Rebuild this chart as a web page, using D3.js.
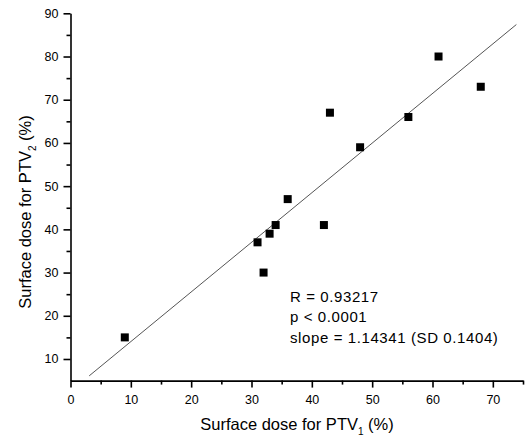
<!DOCTYPE html>
<html lang="en">
<meta charset="utf-8">

<!-- Load d3.js -->
<script src="https://d3js.org/d3.v7.min.js"></script>

<style>
  body { margin: 0; background: #fff; }
  text { font-family: "Liberation Sans", Arial, Helvetica, sans-serif; fill: #000; }
</style>

<!-- Create a div where the graph will take place -->
<div id="my_dataviz"></div>

<script>

    // data
    var doseX = [9, 31, 32, 33, 34, 36, 42, 43, 48, 56, 61, 68];
    var doseY = [15, 37, 30, 39, 41, 47, 41, 67, 59, 66, 80, 73];

    // end points of the fitted line
    var fitX = [3.1, 73.9];
    var fitY = [6.1, 87.4];

    var xTicks = [0, 10, 20, 30, 40, 50, 60, 70];
    var xMinor = [5, 15, 25, 35, 45, 55, 65, 75];
    var yTicks = [10, 20, 30, 40, 50, 60, 70, 80, 90];
    var yMinor = [15, 25, 35, 45, 55, 65, 75, 85];

    var statLines = ["R = 0.93217", "p < 0.0001", "slope = 1.14341 (SD 0.1404)"];

    // set the dimensions and margins of the graph
    var margin = {top: 13.3, right: 4, bottom: 58.4, left: 70.5},
      width = 527 - margin.left - margin.right,
      height = 439 - margin.top - margin.bottom;

    var svg = d3.select("#my_dataviz")
    .append("svg")
      .attr("width", 527)
      .attr("height", 439)
    .append("g")
      .attr("transform", "translate(" + margin.left + "," + margin.top + ")");

    var x = d3.scaleLinear().domain([0, 75]).range([0, width]);
    var y = d3.scaleLinear().domain([5, 90]).range([height, 0]);

    // minor ticks first
    svg.append("g")
      .attr("transform", "translate(0," + height + ")")
      .call(d3.axisBottom(x).tickValues(xMinor).tickSize(4).tickFormat(""))
      .call(function(g) { g.select(".domain").remove(); });
    svg.append("g")
      .call(d3.axisLeft(y).tickValues(yMinor).tickSize(4).tickFormat(""))
      .call(function(g) { g.select(".domain").remove(); });

    // X axis
    svg.append("g")
      .attr("class", "xaxis")
      .attr("transform", "translate(0," + height + ")")
      .call(d3.axisBottom(x).tickValues(xTicks).tickSize(7).tickSizeOuter(0).tickPadding(7.5));

    // Y axis
    svg.append("g")
      .attr("class", "yaxis")
      .call(d3.axisLeft(y).tickValues(yTicks).tickSize(7).tickSizeOuter(0).tickPadding(5));

    svg.selectAll(".tick line, .domain")
      .attr("stroke", "#000")
      .attr("stroke-width", 1.6);
    svg.selectAll(".tick text")
      .style("font-size", "12.5px")
      .attr("fill", "#000");

    // fitted line
    svg.append("path")
      .datum(d3.zip(fitX, fitY))
      .attr("fill", "none")
      .attr("stroke", "#555")
      .attr("stroke-width", 1)
      .attr("d", d3.line()
        .x(function(d) { return x(d[0]); })
        .y(function(d) { return y(d[1]); }));

    // the squares
    var sz = 8;
    svg.selectAll(".pt")
      .data(d3.zip(doseX, doseY))
      .enter()
      .append("rect")
        .attr("class", "pt")
        .attr("x", function(d) { return x(d[0]) - sz / 2; })
        .attr("y", function(d) { return y(d[1]) - sz / 2; })
        .attr("width", sz)
        .attr("height", sz)
        .attr("fill", "#000");

    // stats text
    svg.append("text")
      .attr("x", 290 - margin.left)
      .attr("y", 302 - margin.top)
      .style("font-size", "15px")
      .style("letter-spacing", "0.6px")
      .selectAll("tspan")
      .data(statLines)
      .enter()
      .append("tspan")
        .attr("x", 290 - margin.left)
        .attr("dy", function(d, i) { return i == 0 ? 0 : 20.3; })
        .text(function(d) { return d; });

    // x title
    var xt = svg.append("text")
      .attr("x", 297 - margin.left)
      .attr("y", 430 - margin.top)
      .attr("text-anchor", "middle")
      .style("font-size", "16.5px");
    xt.append("tspan").text("Surface dose for PTV");
    xt.append("tspan").attr("dy", 5).style("font-size", "10px").text("1");
    xt.append("tspan").attr("dy", -5).text(" (%)");

    // y title
    var yt = svg.append("text")
      .attr("transform", "translate(" + (31 - margin.left) + "," + (212 - margin.top) + ") rotate(-90)")
      .attr("text-anchor", "middle")
      .style("font-size", "16.5px");
    yt.append("tspan").text("Surface dose for PTV");
    yt.append("tspan").attr("dy", 5).style("font-size", "10px").text("2");
    yt.append("tspan").attr("dy", -5).text(" (%)");

</script>
</html>
